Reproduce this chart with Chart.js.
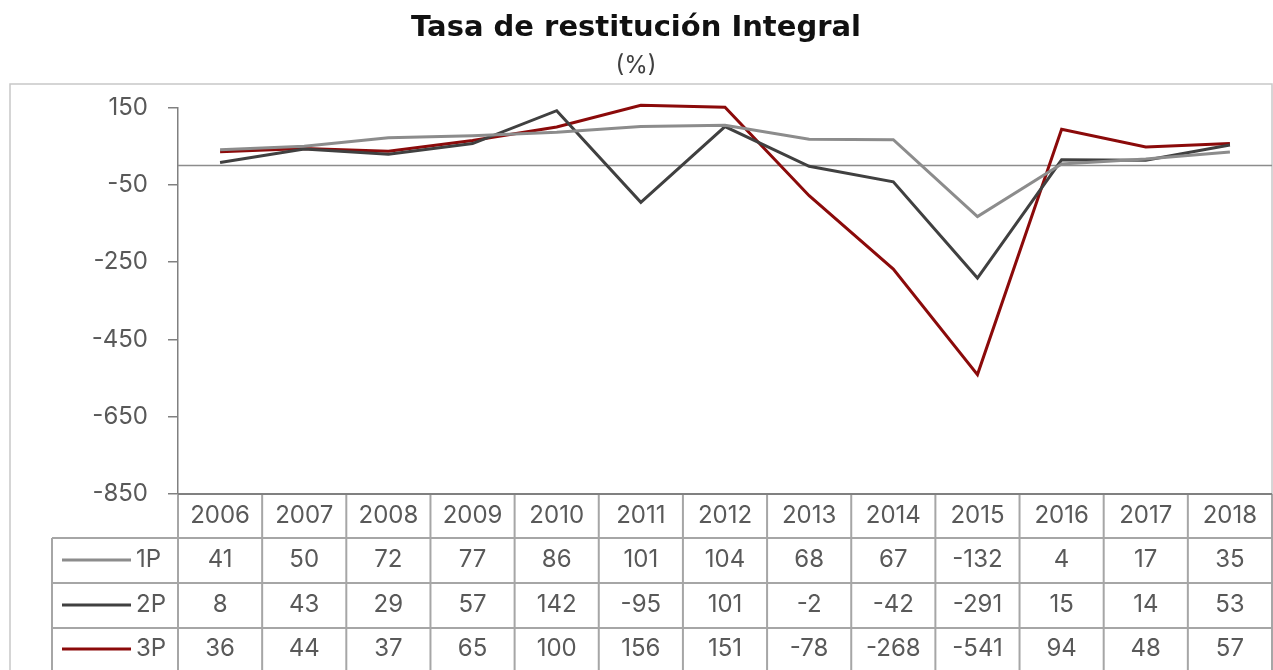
<!DOCTYPE html>
<html>
<head>
<meta charset="utf-8">
<script src="https://cdn.jsdelivr.net/npm/chart.js@4.4.1/dist/chart.umd.min.js"></script>
<style>
  html, body { margin: 0; padding: 0; background: #fff; }
  #wrap { width: 1273px; height: 670px; position: relative; }
</style>
</head>
<body>
<div id="wrap"><canvas id="chart"></canvas></div>
<script>
const years = ['2006','2007','2008','2009','2010','2011','2012','2013','2014','2015','2016','2017','2018'];
const serie1P = [41, 50, 72, 77, 86, 101, 104, 68, 67, -132, 4, 17, 35];
const serie2P = [8, 43, 29, 57, 142, -95, 101, -2, -42, -291, 15, 14, 53];
const serie3P = [36, 44, 37, 65, 100, 156, 151, -78, -268, -541, 94, 48, 57];
const seriesNames = ['1P', '2P', '3P'];
const yMin = -850, yMax = 150, yStep = 200;

const FONT = 'Inter, "Noto Sans", sans-serif';
const TITLE_FONT = '"DejaVu Sans", Inter, sans-serif';
const TXT = '#595959';
const colors = ['#8c8c8c', '#404040', '#8b0a0a'];

// frame, zero line and data table under the plot
const tablePlugin = {
    id: 'tablePlugin',
    beforeDraw(chart) {
        const ctx = chart.ctx;
        ctx.save();
        ctx.fillStyle = '#fff';
        ctx.fillRect(0, 0, chart.width, chart.height);
        ctx.strokeStyle = '#c8c8c8';
        ctx.lineWidth = 1.5;
        ctx.strokeRect(10, 84, 1262, 620);
        ctx.restore();
    },
    beforeDatasetsDraw(chart) {
        const ctx = chart.ctx, y = chart.scales.y, a = chart.chartArea;
        ctx.save();
        ctx.strokeStyle = '#8c8c8c';
        ctx.lineWidth = 1.5;
        ctx.beginPath();
        ctx.moveTo(a.left, y.getPixelForValue(0));
        ctx.lineTo(a.right, y.getPixelForValue(0));
        ctx.stroke();
        ctx.restore();
    },
    afterDraw(chart) {
        const ctx = chart.ctx, x = chart.scales.x, a = chart.chartArea;
        const half = (x.getPixelForValue(1) - x.getPixelForValue(0)) / 2;
        const rows = [a.bottom, 538, 583, 628, 700];
        const rowMid = [516, 560, 605, 649];
        const legLeft = 52;
        const data = chart.data.datasets;
        ctx.save();
        ctx.strokeStyle = '#a6a6a6';
        ctx.lineWidth = 2;
        ctx.beginPath();
        for (let r = 1; r < rows.length - 1; r++) {
            ctx.moveTo(legLeft, rows[r]);
            ctx.lineTo(a.right, rows[r]);
        }
        for (let i = 0; i <= years.length; i++) {
            const px = i < years.length ? x.getPixelForValue(i) - half : x.getPixelForValue(i - 1) + half;
            ctx.moveTo(px, rows[0]);
            ctx.lineTo(px, 670);
        }
        ctx.moveTo(legLeft, rows[1]);
        ctx.lineTo(legLeft, 670);
        ctx.stroke();
        // x axis line
        ctx.strokeStyle = '#808080';
        ctx.beginPath();
        ctx.moveTo(a.left, a.bottom);
        ctx.lineTo(a.right, a.bottom);
        ctx.stroke();

        ctx.font = '24px ' + FONT;
        ctx.fillStyle = TXT;
        ctx.textAlign = 'center';
        ctx.textBaseline = 'middle';
        years.forEach((yr, i) => ctx.fillText(yr, x.getPixelForValue(i), rowMid[0]));
        data.forEach((ds, r) => {
            const cy = rowMid[r + 1];
            ds.data.forEach((v, i) => ctx.fillText(String(v), x.getPixelForValue(i), cy));
            ctx.strokeStyle = ds.borderColor;
            ctx.lineWidth = 3;
            ctx.beginPath();
            ctx.moveTo(62, cy);
            ctx.lineTo(131, cy);
            ctx.stroke();
            ctx.textAlign = 'left';
            ctx.fillText(ds.label, 136, cy);
            ctx.textAlign = 'center';
        });
        ctx.restore();
    }
};

new Chart(document.getElementById('chart'), {
    type: 'line',
    data: {
        labels: years,
        datasets: [
            { label: seriesNames[0], data: serie1P, borderColor: colors[0], clip: false },
            { label: seriesNames[1], data: serie2P, borderColor: colors[1], clip: false },
            { label: seriesNames[2], data: serie3P, borderColor: colors[2], clip: false }
        ]
    },
    options: {
        responsive: true, maintainAspectRatio: false, animation: false,
        elements: { line: { borderWidth: 3, tension: 0 }, point: { radius: 0, hoverRadius: 0 } },
        layout: { padding: { left: 0, right: 1, bottom: 176, top: 0 } },
        plugins: {
            legend: { display: false },
            tooltip: { enabled: false },
            title: {
                display: true, text: 'Tasa de restitución Integral', color: '#111',
                font: { family: TITLE_FONT, size: 29, weight: 'bold', lineHeight: 1.2 },
                padding: { top: 11, bottom: 0 }
            },
            subtitle: {
                display: true, text: '(%)', color: '#404040',
                font: { family: FONT, size: 24, lineHeight: 1.2 },
                padding: { top: 6, bottom: 27 }
            }
        },
        scales: {
            x: { display: false, offset: true },
            y: {
                min: yMin, max: yMax,
                afterFit(scale) { scale.width = 178; },
                ticks: { stepSize: yStep, color: TXT, padding: 20, font: { family: FONT, size: 24 } },
                grid: { drawOnChartArea: false, drawTicks: true, tickLength: 10, color: '#808080', lineWidth: 1.5 },
                border: { display: true, color: '#808080', width: 1.5 }
            }
        }
    },
    plugins: [tablePlugin]
});
</script>
</body>
</html>
